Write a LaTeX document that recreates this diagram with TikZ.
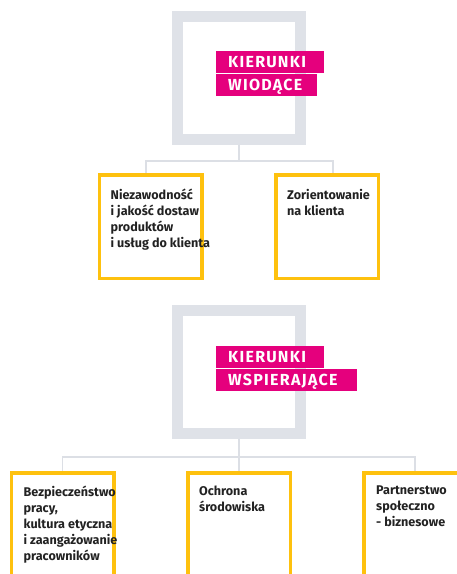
\documentclass[tikz,border=0pt]{standalone}
\usepackage{fontspec}
\setmainfont{Fira Sans}
\usetikzlibrary{positioning}
\definecolor{framegray}{HTML}{DFE2E8}
\definecolor{wiregray}{HTML}{DCDFE5}
\definecolor{accent}{HTML}{E5007D}
\definecolor{gold}{HTML}{FEC10E}
\definecolor{ink}{HTML}{222222}

\begin{document}
\begin{tikzpicture}[
    x=1pt, y=-1pt,
    bigframe/.style={rectangle, draw=framegray, line width=11pt, minimum size=123pt, inner sep=0pt},
    tag/.style={rectangle, fill=accent, text=white, font=\fontsize{16}{18}\selectfont\bfseries\addfontfeatures{LetterSpace=8}, inner xsep=12pt, inner ysep=5.5pt, text height=11pt, text depth=0pt, align=left, anchor=north west},
    goalbox/.style={rectangle, draw=gold, line width=3.5pt, minimum width=102.5pt, minimum height=103.5pt, inner sep=0pt},
    goaltext/.style={font=\fontsize{12.6}{16}\selectfont\bfseries, text=ink, align=left, inner sep=0pt},
    link/.style={draw=wiregray, line width=1.2pt}
]
\useasboundingbox (0,0) rectangle (457,574);
\clip (0,0) rectangle (457,574);

% Leading directions
\node (lead) [bigframe] at (239,77.5) {};
\node (leadA) [tag, text width=84pt] at (216,51) {KIERUNKI};
\node (leadB) [tag, text width=77pt, below right=0pt and 0pt of leadA.south west] {WIODĄCE};

\node (reliab) [goalbox] at (150.5,226.5) {};
\node (client) [goalbox] at (327,226.5) {};
\node (reliabtxt) [goaltext, below right=16pt and 13pt of reliab.north west] {Niezawodność\\ i jakość dostaw\\ produktów\\ i usług do klienta};
\node (clienttxt) [goaltext, below right=16pt and 13pt of client.north west] {Zorientowanie\\ na klienta};

\coordinate (leadfork) at (239,161);
\draw [link] (lead.south) -- (leadfork);
\draw [link] (leadfork) -| ([xshift=-4.5pt]reliab.north);
\draw [link] (leadfork) -| ([xshift=6pt]client.north);

% Supporting directions
\node (support) [bigframe] at (239,372) {};
\node (supportA) [tag, text width=84pt] at (216,346) {KIERUNKI};
\node (supportB) [tag, text width=117pt, below right=0pt and 0pt of supportA.south west] {WSPIERAJĄCE};

\node (safety) [goalbox] at (62.5,524.5) {};
\node (nature) [goalbox] at (239,524.5) {};
\node (partner) [goalbox] at (415,524.5) {};
\node (safetytxt) [goaltext, below right=15pt and 14pt of safety.north west] {Bezpieczeństwo\\ pracy,\\ kultura etyczna\\ i zaangażowanie\\ pracowników};
\node (naturetxt) [goaltext, below right=15pt and 13pt of nature.north west] {Ochrona\\ środowiska};
\node (partnertxt) [goaltext, below right=15pt and 14pt of partner.north west] {Partnerstwo\\ społeczno\\ - biznesowe};

\coordinate (supportfork) at (239,457);
\draw [link] (support.south) -- (supportfork);
\draw [link] (supportfork) -| (safety.north);
\draw [link] (supportfork) -- (nature.north);
\draw [link] (supportfork) -| (partner.north);

\end{tikzpicture}
\end{document}
